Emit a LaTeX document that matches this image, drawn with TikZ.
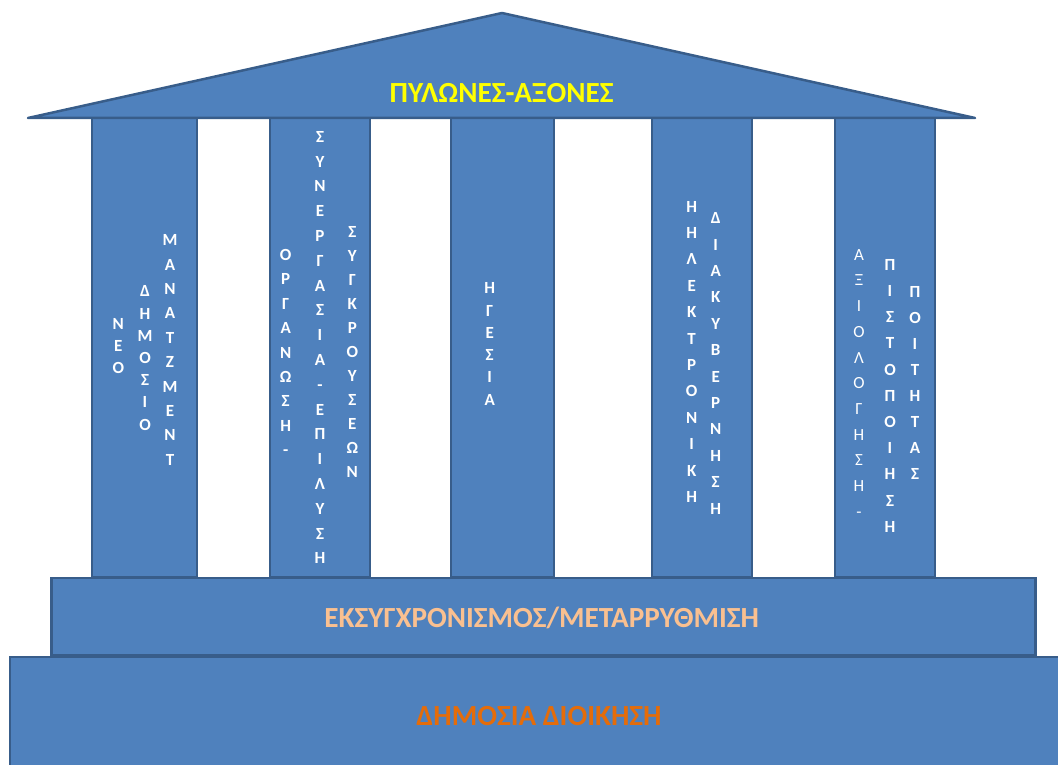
\documentclass[tikz,border=0pt]{standalone}
\usepackage{fontspec}
\setmainfont{Carlito}
\definecolor{fillblue}{HTML}{4F81BD}
\definecolor{edgeblue}{HTML}{385D8A}
\definecolor{titleyellow}{HTML}{FFFF00}
\definecolor{peach}{HTML}{FAC090}
\definecolor{orangetext}{HTML}{E46C0A}
\begin{document}
\begin{tikzpicture}[x=1pt,y=-1pt,
  block/.style={draw=edgeblue, fill=fillblue, line width=2.5pt, inner sep=0pt, rectangle},
  vtext/.style={text=white, align=center, inner sep=0pt, font=\bfseries\fontsize{17}{#1}\selectfont},
  vtextr/.style={text=white, align=center, inner sep=0pt, font=\fontsize{17}{#1}\selectfont},
  bigtext/.style={inner sep=0pt, font=\bfseries\fontsize{29.2}{31}\selectfont}]
\useasboundingbox (0,0) rectangle (1058,765);
\clip (0,0) rectangle (1058,765);
% pillars
\node[block, minimum width=105pt, minimum height=459pt] (p1) at (144.5,347.5) {};
\node[block, minimum width=100pt, minimum height=459pt] (p2) at (320,347.5) {};
\node[block, minimum width=103pt, minimum height=459pt] (p3) at (502.5,347.5) {};
\node[block, minimum width=100pt, minimum height=459pt] (p4) at (702,347.5) {};
\node[block, minimum width=100pt, minimum height=459pt] (p5) at (885,347.5) {};
% roof
\draw[block, line join=round] (28,118) coordinate (rl) -- (502,13) coordinate (apex) -- (975,118) coordinate (rr) -- cycle;
\node[bigtext, text=titleyellow] (title) at (501.5,93.3) {ΠΥΛΩΝΕΣ-ΑΞΟΝΕΣ};
% steps
\node[block, minimum width=984pt, minimum height=77pt] (s1) at (543.5,616.5) {};
\node[block, minimum width=1060pt, minimum height=115pt] (s2) at (540,714.5) {};
\node[bigtext, text=peach] (t1) at (541.7,617.5) {ΕΚΣΥΓΧΡΟΝΙΣΜΟΣ/ΜΕΤΑΡΡΥΘΜΙΣΗ};
\node[bigtext, text=orangetext] (t2) at (539,716) {ΔΗΜΟΣΙΑ ΔΙΟΙΚΗΣΗ};
% pillar 1
\node[vtext=22.2] (c11) at (118.3,346) {Ν\\Ε\\Ο};
\node[vtext=22.2] (c12) at (145,358) {Δ\\Η\\Μ\\Ο\\Σ\\Ι\\Ο};
\node[vtext=24.4] (c13) at (170,350) {Μ\\Α\\Ν\\Α\\Τ\\Ζ\\Μ\\Ε\\Ν\\Τ};
% pillar 2
\node[vtext=24.4] (c21) at (285.7,352.5) {Ο\\Ρ\\Γ\\Α\\Ν\\Ω\\Σ\\Η\\-};
\node[vtext=24.8] (c22) at (320,347.5) {Σ\\Υ\\Ν\\Ε\\Ρ\\Γ\\Α\\Σ\\Ι\\Α\\-\\Ε\\Π\\Ι\\Λ\\Υ\\Σ\\Η};
\node[vtext=24] (c23) at (352.3,351.7) {Σ\\Υ\\Γ\\Κ\\Ρ\\Ο\\Υ\\Σ\\Ε\\Ω\\Ν};
% pillar 3
\node[vtext=22.3] (c31) at (489.7,344) {Η\\Γ\\Ε\\Σ\\Ι\\Α};
% pillar 4
\node[vtext=26.4] (c41) at (691.7,351.7) {Η\\Η\\Λ\\Ε\\Κ\\Τ\\Ρ\\Ο\\Ν\\Ι\\Κ\\Η};
\node[vtext=26.4] (c42) at (715.7,363.3) {Δ\\Ι\\Α\\Κ\\Υ\\Β\\Ε\\Ρ\\Ν\\Η\\Σ\\Η};
% pillar 5
\node[vtextr=25.7] (c51) at (859,383.3) {Α\\Ξ\\Ι\\Ο\\Λ\\Ο\\Γ\\Η\\Σ\\Η\\-};
\node[vtext=26.2] (c52) at (890,395.8) {Π\\Ι\\Σ\\Τ\\Ο\\Π\\Ο\\Ι\\Η\\Σ\\Η};
\node[vtext=26] (c53) at (915,382.5) {Π\\Ο\\Ι\\Τ\\Η\\Τ\\Α\\Σ};
\end{tikzpicture}
\end{document}
